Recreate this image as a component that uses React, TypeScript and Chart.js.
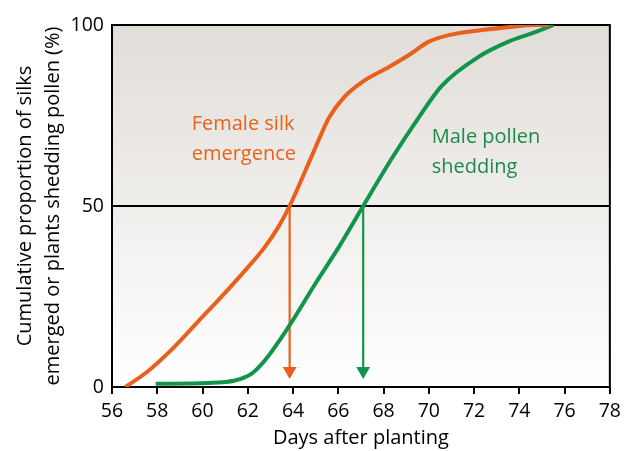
import React, { useEffect, useRef } from "react";
import { Chart, registerables } from "chart.js";

Chart.register(...registerables);

// Days after planting / cumulative % for each curve
const femaleDays = [56.59, 57.56, 58.6, 59.79, 60.83, 62.02, 62.76, 63.36, 63.85, 64.87, 65.6, 66.26, 67.07, 68.24, 69.12, 70.0, 70.88, 72.35, 73.82, 74.6, 75.3];
const femaleVals = [0, 4.2, 10.1, 18.0, 24.9, 33.2, 38.7, 44.3, 50, 64.4, 74.5, 80.1, 84.3, 88.4, 91.7, 95.4, 97.2, 98.6, 99.6, 100, 100];

const maleDays = [57.93, 60.24, 61.43, 62.17, 62.76, 63.8, 64.99, 66.03, 67.1, 68.39, 69.56, 70.59, 72.2, 73.52, 74.55, 75.5];
const maleVals = [0.9, 1.1, 1.8, 3.7, 7.4, 16.6, 28.6, 38.7, 50, 63.4, 74.5, 83.3, 91.2, 95.4, 97.7, 100];

// 50% arrows
const arrowDays = [63.85, 67.1];
const arrowFrom = 50;
const arrowTo = 4.4;

// Axis ticks
const xMin = 56, xMax = 78, xStep = 2;
const yMin = 0, yMax = 100, yStep = 50;
const refLine = 50;

// Curve labels (lines, anchor day, baseline values)
const femaleLabel = ["Female silk", "emergence"];
const femaleLabelDay = 59.52;
const femaleLabelVals = [71.0, 62.7];
const maleLabel = ["Male pollen", "shedding"];
const maleLabelDay = 70.13;
const maleLabelVals = [67.35, 59.07];

const ORANGE = "#e8601c";
const GREEN = "#10954a";
const ORANGE_TXT = "#e8641c";
const GREEN_TXT = "#1a8c47";
const FONT = "'Open Sans', sans-serif";

const toXY = (xs: number[], ys: number[]) => xs.map((x, i) => ({ x, y: ys[i] }));

const bgPlugin = {
  id: "bgBox",
  beforeDraw(chart: any) {
    const { ctx, chartArea: a } = chart;
    const g = ctx.createLinearGradient(0, a.top, 0, a.bottom);
    g.addColorStop(0, "#e1ddd8");
    g.addColorStop(1, "#ffffff");
    ctx.save();
    ctx.fillStyle = g;
    ctx.fillRect(a.left, a.top, a.right - a.left, a.bottom - a.top);
    ctx.restore();
  },
  beforeDatasetsDraw(chart: any) {
    const { ctx, chartArea: a } = chart;
    ctx.save();
    ctx.strokeStyle = "#000";
    ctx.lineWidth = 2;
    ctx.strokeRect(a.left, a.top, a.right - a.left, a.bottom - a.top);
    ctx.restore();
  },
  afterDatasetsDraw(chart: any) {
    const { ctx, scales } = chart;
    const draw = (lines: string[], day: number, vals: number[], color: string) => {
      ctx.save();
      ctx.font = `20px ${FONT}`;
      ctx.fillStyle = color;
      ctx.textAlign = "left";
      ctx.textBaseline = "alphabetic";
      lines.forEach((t, i) => {
        ctx.fillText(t, scales.x.getPixelForValue(day), scales.y.getPixelForValue(vals[i]));
      });
      ctx.restore();
    };
    draw(femaleLabel, femaleLabelDay, femaleLabelVals, ORANGE_TXT);
    draw(maleLabel, maleLabelDay, maleLabelVals, GREEN_TXT);
  },
};

export default function App() {
  const ref = useRef<HTMLCanvasElement | null>(null);
  useEffect(() => {
    if (!ref.current) return;
    const arrowDs = (day: number, color: string) => ({
      data: [{ x: day, y: arrowFrom }, { x: day, y: arrowTo }],
      borderColor: color,
      backgroundColor: color,
      borderWidth: 2.2,
      pointRadius: [0, 8],
      pointStyle: "triangle",
      rotation: 180,
      pointBorderWidth: 0,
      pointBackgroundColor: color,
      tension: 0,
      order: 2,
    });
    const chart = new Chart(ref.current, {
      type: "line",
      data: {
        datasets: [
          arrowDs(arrowDays[0], ORANGE) as any,
          arrowDs(arrowDays[1], GREEN) as any,
          {
            data: toXY(femaleDays, femaleVals),
            borderColor: ORANGE,
            borderWidth: 4,
            pointRadius: 0,
            cubicInterpolationMode: "monotone",
            borderCapStyle: "butt",
            order: 1,
          },
          {
            data: toXY(maleDays, maleVals),
            borderColor: GREEN,
            borderWidth: 4,
            pointRadius: 0,
            cubicInterpolationMode: "monotone",
            order: 1,
          },
        ],
      },
      options: {
        animation: false,
        responsive: false,
        layout: { padding: { top: 25, right: 15, bottom: 0, left: 0 } },
        plugins: { legend: { display: false }, tooltip: { enabled: false } },
        scales: {
          x: {
            type: "linear",
            min: xMin,
            max: xMax,
            afterFit: (s: any) => { s.height = 64; },
            ticks: { stepSize: xStep, color: "#000", padding: 6, font: { family: FONT, size: 19.5 } },
            grid: { drawOnChartArea: false, drawTicks: true, tickLength: 7, color: "#000", lineWidth: 2 },
            border: { display: false },
            title: {
              display: true,
              text: "Days after planting",
              color: "#000",
              font: { family: FONT, size: 20, lineHeight: 1.2 },
              padding: { top: 0, bottom: 1 },
            },
          },
          y: {
            type: "linear",
            min: yMin,
            max: yMax,
            afterFit: (s: any) => { s.width = 112; },
            ticks: { stepSize: yStep, color: "#000", padding: 8, font: { family: FONT, size: 19.5 } },
            grid: {
              drawOnChartArea: true,
              drawTicks: false,
              color: (c: any) => (c.tick && c.tick.value === refLine ? "#000" : "rgba(0,0,0,0)"),
              lineWidth: 2,
            },
            border: { display: false },
            title: {
              display: true,
              text: ["Cumulative proportion of silks", "emerged or plants shedding pollen (%)"],
              color: "#000",
              font: { family: FONT, size: 20, lineHeight: 1.4 },
              padding: { top: 11, bottom: 0 },
            },
          },
        },
      },
      plugins: [bgPlugin],
    });
    return () => chart.destroy();
  }, []);
  return (
    <div style={{ position: "absolute", left: 0, top: 0, width: 627, height: 451 }}>
      <canvas ref={ref} width={627} height={451} style={{ display: "block" }} />
    </div>
  );
}
